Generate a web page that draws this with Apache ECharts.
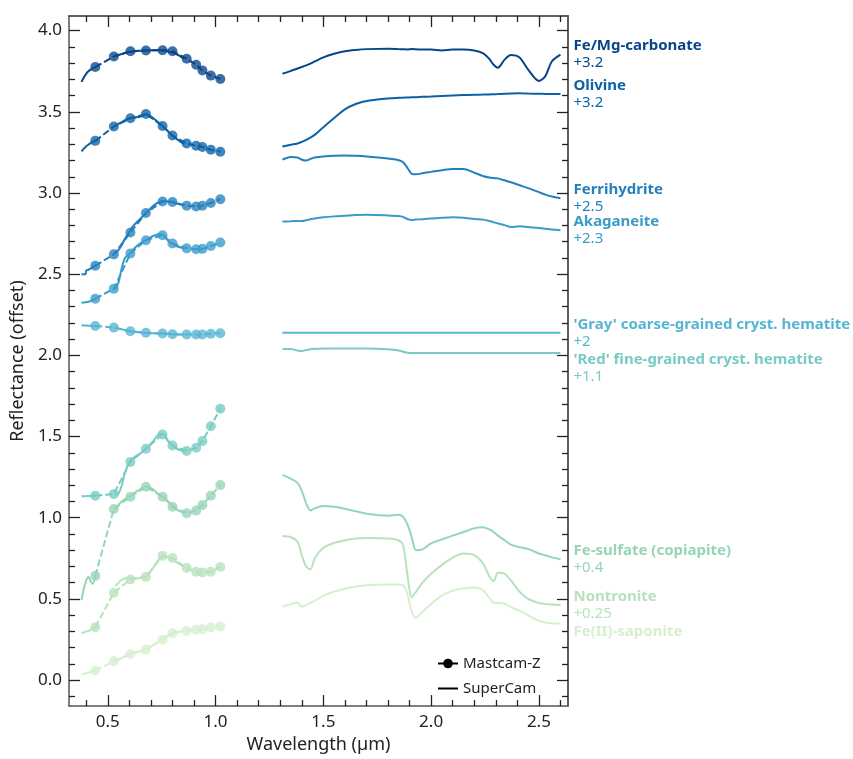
<!DOCTYPE html>
<html>
<head>
<meta charset="utf-8">
<script src="https://cdn.jsdelivr.net/npm/echarts@6/dist/echarts.min.js"></script>
<style>
html,body{margin:0;padding:0;background:#fff;}
#chart{width:853px;height:759px;}
</style>
</head>
<body>
<div id="chart"></div>
<script>
// ---------------- DATA ----------------
const minerals = ['Fe/Mg-carbonate', 'Olivine', 'Ferrihydrite', 'Akaganeite',
  "'Gray' coarse-grained cryst. hematite", "'Red' fine-grained cryst. hematite",
  'Fe-sulfate (copiapite)', 'Nontronite', 'Fe(II)-saponite'];
const offsetLabels = ['+3.2', '+3.2', '+2.5', '+2.3', '+2', '+1.1', '+0.4', '+0.25', ''];

// Mastcam-Z filter wavelengths (µm)
const mzWavelengths = [0.442, 0.528, 0.605, 0.677, 0.754, 0.800, 0.866, 0.910, 0.939, 0.978, 1.022];
const mzCarbonate = [3.776, 3.841, 3.873, 3.878, 3.879, 3.873, 3.827, 3.790, 3.755, 3.723, 3.702];
const mzOlivine = [3.321, 3.409, 3.460, 3.486, 3.413, 3.354, 3.305, 3.291, 3.283, 3.266, 3.254];
const mzFerrihydrite = [2.552, 2.622, 2.757, 2.877, 2.948, 2.944, 2.922, 2.917, 2.922, 2.938, 2.962];
const mzAkaganeite = [2.349, 2.410, 2.628, 2.709, 2.740, 2.689, 2.659, 2.654, 2.656, 2.673, 2.695];
const mzGrayHematite = [2.181, 2.171, 2.149, 2.139, 2.135, 2.130, 2.128, 2.128, 2.128, 2.133, 2.136];
const mzRedHematite = [1.136, 1.146, 1.344, 1.425, 1.513, 1.445, 1.411, 1.431, 1.472, 1.564, 1.672];
const mzSulfate = [0.642, 1.054, 1.130, 1.191, 1.130, 1.068, 1.028, 1.044, 1.078, 1.136, 1.201];
const mzNontronite = [0.326, 0.538, 0.620, 0.636, 0.765, 0.752, 0.691, 0.667, 0.663, 0.667, 0.697];
const mzSaponite = [0.059, 0.116, 0.161, 0.188, 0.249, 0.289, 0.304, 0.310, 0.314, 0.324, 0.330];

// SuperCam violet range
const vioWavelengths = [0.378, 0.390, 0.397, 0.400, 0.410, 0.420, 0.430, 0.445];
const vioCarbonate = [3.684, 3.715, 3.728, 3.735, 3.750, 3.760, 3.768, 3.778];
const vioOlivine = [3.256, 3.275, 3.283, 3.288, 3.298, 3.307, 3.315, 3.322];
const vioFerrihydrite = [2.500, 2.500, 2.500, 2.522, 2.527, 2.535, 2.543, 2.555];
const vioAkaganeite = [2.324, 2.326, 2.327, 2.328, 2.330, 2.334, 2.340, 2.350];
const vioGrayHematite = [2.185, 2.184, 2.184, 2.183, 2.183, 2.182, 2.181, 2.180];
const vioRedHematite = [1.132, 1.133, 1.133, 1.133, 1.134, 1.134, 1.135, 1.137];
const vioSulfate = [0.493, 0.570, 0.600, 0.615, 0.636, 0.610, 0.592, 0.665];
const vioNontronite = [0.289, 0.295, 0.298, 0.300, 0.303, 0.308, 0.315, 0.326];
const vioSaponite = [0.035, 0.040, 0.042, 0.044, 0.046, 0.050, 0.054, 0.060];

// SuperCam visible range
const visWavelengths = [0.536, 0.550, 0.565, 0.580, 0.600, 0.620, 0.650, 0.680, 0.710, 0.740, 0.760, 0.780, 0.800, 0.820, 0.853];
const visCarbonate = [3.845, 3.850, 3.856, 3.862, 3.868, 3.872, 3.876, 3.878, 3.879, 3.879, 3.877, 3.872, 3.865, 3.853, 3.828];
const visOlivine = [3.415, 3.425, 3.437, 3.448, 3.460, 3.465, 3.470, 3.485, 3.462, 3.428, 3.405, 3.378, 3.352, 3.332, 3.302];
const visFerrihydrite = [2.630, 2.650, 2.680, 2.720, 2.760, 2.800, 2.840, 2.880, 2.920, 2.945, 2.950, 2.948, 2.944, 2.935, 2.922];
const visAkaganeite = [2.410, 2.450, 2.540, 2.600, 2.625, 2.655, 2.690, 2.712, 2.735, 2.748, 2.740, 2.705, 2.688, 2.672, 2.660];
const visGrayHematite = [2.170, 2.165, 2.160, 2.155, 2.150, 2.145, 2.141, 2.138, 2.136, 2.135, 2.134, 2.132, 2.130, 2.129, 2.128];
const visRedHematite = [1.140, 1.150, 1.200, 1.280, 1.340, 1.370, 1.395, 1.430, 1.470, 1.515, 1.515, 1.470, 1.445, 1.425, 1.410];
const visSulfate = [1.060, 1.080, 1.100, 1.115, 1.130, 1.150, 1.175, 1.192, 1.175, 1.140, 1.125, 1.100, 1.072, 1.050, 1.030];
const visNontronite = [0.580, 0.600, 0.618, 0.626, 0.630, 0.628, 0.627, 0.642, 0.690, 0.750, 0.762, 0.755, 0.748, 0.725, 0.700];
const visSaponite = [0.118, 0.125, 0.135, 0.148, 0.160, 0.168, 0.178, 0.190, 0.215, 0.240, 0.258, 0.275, 0.288, 0.296, 0.303];

// SuperCam infrared range
const irWavelengths = [1.31, 1.35, 1.38, 1.40, 1.42, 1.44, 1.46, 1.50, 1.55, 1.60, 1.65, 1.70, 1.80, 1.85, 1.87, 1.89,
  1.91, 1.93, 1.96, 2.00, 2.05, 2.10, 2.15, 2.20, 2.24, 2.27, 2.29, 2.31, 2.34, 2.37, 2.41, 2.45, 2.50, 2.53, 2.56, 2.60];
const irCarbonate = [3.735, 3.752, 3.767, 3.776, 3.786, 3.797, 3.810, 3.835, 3.857, 3.873, 3.881, 3.886, 3.888, 3.886, 3.885, 3.884,
  3.886, 3.885, 3.883, 3.884, 3.878, 3.884, 3.884, 3.878, 3.862, 3.825, 3.790, 3.772, 3.820, 3.850, 3.835, 3.760, 3.690, 3.720, 3.810, 3.852];
const irOlivine = [3.286, 3.297, 3.305, 3.315, 3.327, 3.342, 3.358, 3.405, 3.462, 3.515, 3.548, 3.567, 3.582, 3.586, 3.587, 3.588,
  3.589, 3.590, 3.592, 3.594, 3.597, 3.600, 3.603, 3.605, 3.606, 3.607, 3.608, 3.609, 3.611, 3.613, 3.614, 3.612, 3.611, 3.610, 3.609, 3.609];
const irFerrihydrite = [3.205, 3.222, 3.218, 3.205, 3.200, 3.210, 3.218, 3.225, 3.230, 3.231, 3.229, 3.225, 3.212, 3.202, 3.190, 3.155,
  3.118, 3.115, 3.122, 3.130, 3.140, 3.148, 3.148, 3.125, 3.105, 3.095, 3.092, 3.090, 3.078, 3.066, 3.048, 3.030, 3.005, 2.990, 2.978, 2.968];
const irAkaganeite = [2.824, 2.826, 2.828, 2.828, 2.832, 2.838, 2.843, 2.850, 2.856, 2.860, 2.864, 2.866, 2.862, 2.858, 2.852, 2.840,
  2.834, 2.836, 2.839, 2.843, 2.847, 2.850, 2.848, 2.840, 2.836, 2.828, 2.820, 2.812, 2.802, 2.790, 2.795, 2.790, 2.785, 2.780, 2.775, 2.771];
const irGrayHematite = [2.139, 2.139, 2.139, 2.139, 2.139, 2.139, 2.139, 2.139, 2.139, 2.139, 2.139, 2.139, 2.139, 2.139, 2.139, 2.139,
  2.139, 2.139, 2.139, 2.139, 2.139, 2.139, 2.139, 2.139, 2.139, 2.139, 2.139, 2.139, 2.139, 2.139, 2.139, 2.139, 2.139, 2.139, 2.139, 2.139];
const irRedHematite = [2.039, 2.039, 2.030, 2.027, 2.033, 2.038, 2.040, 2.042, 2.043, 2.043, 2.043, 2.043, 2.038, 2.030, 2.022, 2.016,
  2.014, 2.014, 2.014, 2.014, 2.014, 2.014, 2.014, 2.014, 2.014, 2.014, 2.014, 2.014, 2.014, 2.014, 2.014, 2.014, 2.014, 2.014, 2.014, 2.014];
const irSulfate = [1.264, 1.240, 1.215, 1.166, 1.090, 1.045, 1.058, 1.072, 1.068, 1.055, 1.040, 1.025, 1.013, 1.018, 1.005, 0.960,
  0.880, 0.800, 0.805, 0.842, 0.866, 0.890, 0.912, 0.935, 0.942, 0.928, 0.912, 0.890, 0.862, 0.835, 0.818, 0.808, 0.780, 0.768, 0.756, 0.744];
const irNontronite = [0.887, 0.880, 0.852, 0.770, 0.700, 0.682, 0.750, 0.815, 0.845, 0.862, 0.872, 0.876, 0.872, 0.860, 0.830, 0.650,
  0.510, 0.545, 0.600, 0.655, 0.710, 0.755, 0.780, 0.770, 0.720, 0.640, 0.610, 0.662, 0.655, 0.615, 0.545, 0.500, 0.475, 0.468, 0.465, 0.463];
const irSaponite = [0.453, 0.468, 0.478, 0.452, 0.462, 0.475, 0.488, 0.520, 0.545, 0.563, 0.576, 0.584, 0.589, 0.589, 0.585, 0.530,
  0.420, 0.385, 0.420, 0.470, 0.520, 0.550, 0.565, 0.570, 0.555, 0.505, 0.476, 0.475, 0.470, 0.450, 0.428, 0.400, 0.365, 0.355, 0.350, 0.347];

const xTickLabels = [0.5, 1.0, 1.5, 2.0, 2.5];
const yTickLabels = [0.0, 0.5, 1.0, 1.5, 2.0, 2.5, 3.0, 3.5, 4.0];

// ---------------- STYLE ----------------
const colors = ['#08468a', '#0b62a6', '#2280bc', '#3a9bca', '#56b6d2', '#78cbc4', '#96d5b5', '#b7e2bd', '#d6efcf'];
const labelShift = [0, 0, 0, 0, 0, 15, 0, 0, 8];
const FONT = 'Noto Sans';

const mzSets = [mzCarbonate, mzOlivine, mzFerrihydrite, mzAkaganeite, mzGrayHematite, mzRedHematite, mzSulfate, mzNontronite, mzSaponite];
const vioSets = [vioCarbonate, vioOlivine, vioFerrihydrite, vioAkaganeite, vioGrayHematite, vioRedHematite, vioSulfate, vioNontronite, vioSaponite];
const visSets = [visCarbonate, visOlivine, visFerrihydrite, visAkaganeite, visGrayHematite, visRedHematite, visSulfate, visNontronite, visSaponite];
const irSets = [irCarbonate, irOlivine, irFerrihydrite, irAkaganeite, irGrayHematite, irRedHematite, irSulfate, irNontronite, irSaponite];

const pair = (xs, ys) => xs.map((x, i) => [x, ys[i]]);

const X_MIN = 0.32, X_MAX = 2.635, Y_MIN = -0.16, Y_MAX = 4.09;
const xMinor = [], yMinor = [];
for (let i = 4; i <= 26; i++) if (i % 5 !== 0) xMinor.push(i / 10);
for (let i = -1; i <= 40; i++) if (i % 5 !== 0) yMinor.push(i / 10);

const axisLineStyle = { color: '#555', width: 1.5 };
const tickStyle = { color: '#222', width: 1.3 };

function xAx(position, values, len, withLabels) {
  return {
    type: 'value', min: X_MIN, max: X_MAX, position: position, gridIndex: 0,
    axisLine: { show: withLabels || position === 'top', onZero: false, lineStyle: axisLineStyle },
    axisTick: { show: true, inside: true, length: len, customValues: values, lineStyle: tickStyle },
    axisLabel: withLabels ? {
      show: true, customValues: xTickLabels, formatter: v => v.toFixed(1),
      fontFamily: FONT, fontSize: 17, color: '#222', margin: 8
    } : { show: false },
    splitLine: { show: false },
    name: withLabels ? 'Wavelength (µm)' : '',
    nameLocation: 'middle', nameGap: 29,
    nameTextStyle: { fontFamily: FONT, fontSize: 18, color: '#222' }
  };
}
function yAx(position, values, len, withLabels) {
  return {
    type: 'value', min: Y_MIN, max: Y_MAX, position: position, gridIndex: 0,
    axisLine: { show: withLabels || position === 'right', onZero: false, lineStyle: axisLineStyle },
    axisTick: { show: true, inside: true, length: len, customValues: values, lineStyle: tickStyle },
    axisLabel: withLabels ? {
      show: true, customValues: yTickLabels, formatter: v => v.toFixed(1),
      fontFamily: FONT, fontSize: 17, color: '#222', margin: 7
    } : { show: false },
    splitLine: { show: false },
    name: withLabels ? 'Reflectance (offset)' : '',
    nameLocation: 'middle', nameGap: 40,
    nameTextStyle: { fontFamily: FONT, fontSize: 18, color: '#222' }
  };
}

const series = [];
minerals.forEach((name, i) => {
  const c = colors[i];
  // SuperCam violet
  series.push({
    type: 'line', name: 'sc-vio-' + i, data: pair(vioWavelengths, vioSets[i]),
    showSymbol: false, smooth: 0.3, lineStyle: { color: c, width: 2 }, z: 3, silent: true
  });
  // SuperCam visible
  series.push({
    type: 'line', name: 'sc-vis-' + i, data: pair(visWavelengths, visSets[i]),
    showSymbol: false, smooth: 0.3, lineStyle: { color: c, width: 2 }, z: 3, silent: true
  });
  // SuperCam infrared with end label
  const fmt = offsetLabels[i] ? '{n|' + name + '}\n{o|' + offsetLabels[i] + '}' : '{n|' + name + '}';
  series.push({
    type: 'line', name: 'sc-ir-' + i, data: pair(irWavelengths, irSets[i]),
    showSymbol: false, smooth: 0.3, lineStyle: { color: c, width: 2 }, z: 3, silent: true,
    endLabel: {
      show: true, formatter: () => fmt, distance: 13, offset: [0, labelShift[i]],
      color: c,
      rich: {
        n: { fontFamily: FONT, fontWeight: 'bold', fontSize: 15, lineHeight: 17, color: c },
        o: { fontFamily: FONT, fontSize: 15, lineHeight: 17, color: c }
      }
    }
  });
  // Mastcam-Z
  series.push({
    type: 'line', name: 'mz-' + i, data: pair(mzWavelengths, mzSets[i]),
    symbol: 'circle', symbolSize: 10, showSymbol: true,
    itemStyle: { color: c, opacity: 0.78 },
    lineStyle: { color: c, width: 2, type: [7, 3] }, z: 4, silent: true
  });
});
// legend entries
series.push({ type: 'line', name: 'Mastcam-Z', data: [], symbol: 'circle', symbolSize: 10,
  itemStyle: { color: '#000' }, lineStyle: { color: '#000', width: 2 } });
series.push({ type: 'line', name: 'SuperCam', data: [], symbol: 'none',
  itemStyle: { color: '#000' }, lineStyle: { color: '#000', width: 2 } });

const option = {
  animation: false,
  backgroundColor: '#fff',
  grid: { left: 69, right: 285, top: 16, bottom: 49, containLabel: false },
  xAxis: [
    xAx('bottom', xTickLabels, 11, true),
    xAx('bottom', xMinor, 6, false),
    xAx('top', xTickLabels, 11, false),
    xAx('top', xMinor, 6, false)
  ],
  yAxis: [
    yAx('left', yTickLabels, 11, true),
    yAx('left', yMinor, 6, false),
    yAx('right', yTickLabels, 11, false),
    yAx('right', yMinor, 6, false)
  ],
  legend: {
    data: [
      { name: 'Mastcam-Z' },
      { name: 'SuperCam', icon: 'path://M0,0H20V2H0Z' }
    ],
    orient: 'vertical', left: 437, top: 656, symbolKeepAspect: true,
    itemWidth: 20, itemHeight: 12, itemGap: 10, padding: 0,
    textStyle: { fontFamily: FONT, fontSize: 15, color: '#222' }
  },
  series: series
};

const chart = echarts.init(document.getElementById('chart'), null, { renderer: 'canvas' });
chart.setOption(option);
</script>
</body>
</html>
